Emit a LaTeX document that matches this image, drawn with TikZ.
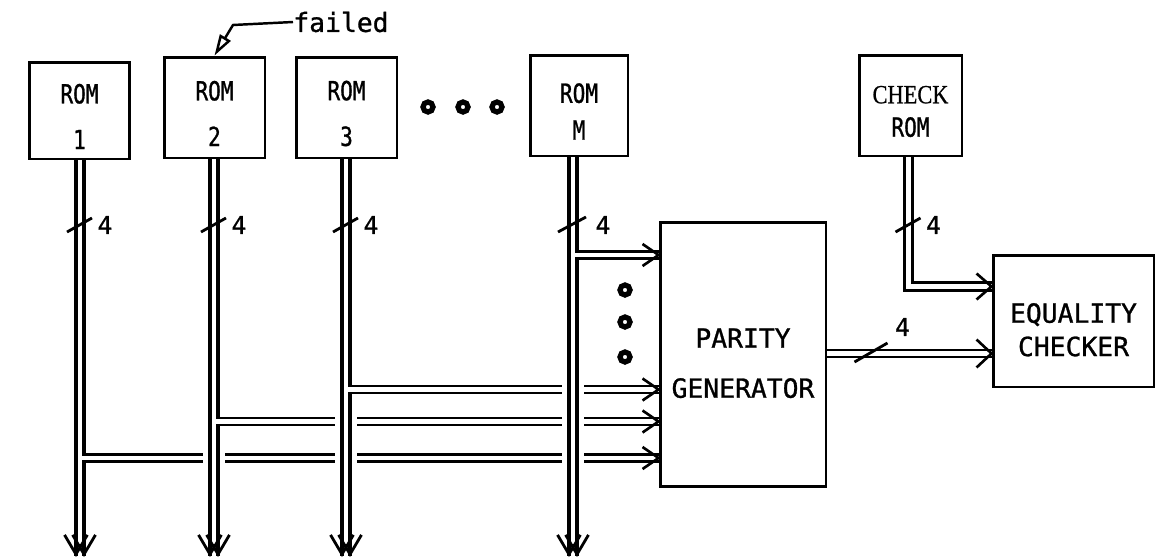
\documentclass[tikz,border=0pt]{standalone}
\usepackage{fontspec}
\setmonofont[FakeBold=1]{DejaVu Sans Mono}
\newfontfamily\romfont[FakeStretch=0.8, FakeBold=1]{DejaVu Sans Mono}
\newfontfamily\checkfont[FakeStretch=0.85, FakeBold=0.6]{Liberation Serif}
\usetikzlibrary{arrows.meta,calc}

\begin{document}
\begin{tikzpicture}[
  x=0.02cm, y=-0.02cm,
  % Node Styles
  romnode/.style={rectangle, draw, line width=1.7pt, minimum width=2.02cm, minimum height=2.02cm},
  romlbl/.style={align=center, inner sep=0pt, yshift=-3.4pt, font=\romfont\fontsize{15}{26}\selectfont},
  blocknode/.style={rectangle, draw, line width=1.7pt},
  blocklbl/.style={align=center, inner sep=0pt, yshift=-5pt, font=\ttfamily\fontsize{15}{19}\selectfont},
  numlbl/.style={font=\ttfamily\fontsize{14}{16}\selectfont, inner sep=0pt},
  % Line Styles
  vbus/.style={line width=1.8pt, double=white, double distance=2.8pt},
  hbus/.style={line width=1.4pt, double=white, double distance=2.4pt},
  busgap/.style={draw=white, line width=13pt},
  barb/.style={line width=1.5pt, line join=round},
  vtip/.style={line width=1.6pt, -{Straight Barb[length=11pt, width=13pt]}},
  slash/.style={line width=1.6pt},
  dot/.style={line width=3pt},
  pointer/.style={line width=1.4pt, -{Triangle[open, length=12pt, width=7pt]}}
]
\useasboundingbox (0,0) rectangle (1156,558);

% ROM blocks
\node[romnode, minimum height=1.94cm, label={[romlbl]center:{ROM\\1}}] (rom1) at (79.5,110.5) {};
\node[romnode, label={[romlbl]center:{ROM\\2}}] (rom2) at (214.5,107.5) {};
\node[romnode, label={[romlbl]center:{ROM\\3}}] (rom3) at (346.5,107.5) {};
\node[romnode, minimum width=1.96cm, label={[romlbl]center:{ROM\\[-5pt]M}}] (romM) at (579,105.5) {};
\node[romnode, minimum width=2.06cm, label={[romlbl]center:{{\checkfont CHECK}\\[-7pt]ROM}}] (chkrom) at (910.5,105.5) {};

% checking blocks
\node[blocknode, minimum width=3.32cm, minimum height=5.3cm, label={[blocklbl, font=\ttfamily\fontsize{15}{28.5}\selectfont]center:{PARITY\\GENERATOR}}] (pg) at (743,354.5) {};
\node[blocknode, minimum width=3.22cm, minimum height=2.64cm, label={[blocklbl]center:{EQUALITY\\CHECKER}}] (eq) at (1073.5,321) {};

% bus ends and tap rows
\coordinate (b1) at (80,556);
\coordinate (b2) at (214,556);
\coordinate (b3) at (346,556);
\coordinate (bM) at (573,556);
\coordinate (t1) at (0,458);
\coordinate (t2) at (0,421.5);
\coordinate (t3) at (0,389.5);
\coordinate (tM) at (0,255);
\coordinate (tc) at (908.5,286.5);
\coordinate (to) at (0,353.5);
\coordinate (sl) at (0,225);

% buses and taps (each bus cuts the taps on its left)
\draw[vbus] (rom1.south -| b1) -- (b1);
\draw[hbus] ($(b1 |- t1)+(1.4pt,0)$) -- (pg.west |- t1);
\draw[busgap] (rom2.south -| b2) -- (b2);
\draw[vbus] (rom2.south -| b2) -- (b2);
\draw[hbus] ($(b2 |- t2)+(1.4pt,0)$) -- (pg.west |- t2);
\draw[busgap] (rom3.south -| b3) -- (b3);
\draw[vbus] (rom3.south -| b3) -- (b3);
\draw[hbus] ($(b3 |- t3)+(1.4pt,0)$) -- (pg.west |- t3);
\draw[busgap] (romM.south -| bM) -- (bM);
\draw[vbus] (romM.south -| bM) -- (bM);
\draw[hbus] ($(bM |- tM)+(1.4pt,0)$) -- (pg.west |- tM);

\draw[vbus] (chkrom.south -| tc) |- (eq.west |- tc);
\draw[hbus] (pg.east |- to) -- (eq.west |- to);

% arrowheads into the blocks
\draw[barb] ($(pg.west |- tM)+(-16,-11)$) -- (pg.west |- tM) -- ($(pg.west |- tM)+(-16,11)$);
\draw[barb] ($(pg.west |- t3)+(-16,-11)$) -- (pg.west |- t3) -- ($(pg.west |- t3)+(-16,11)$);
\draw[barb] ($(pg.west |- t2)+(-16,-11)$) -- (pg.west |- t2) -- ($(pg.west |- t2)+(-16,11)$);
\draw[barb] ($(pg.west |- t1)+(-16,-11)$) -- (pg.west |- t1) -- ($(pg.west |- t1)+(-16,11)$);
\draw[barb] ($(eq.west |- tc)+(-15,-13)$) -- (eq.west |- tc) -- ($(eq.west |- tc)+(-15,13)$);
\draw[barb] ($(eq.west |- to)+(-15,-14)$) -- (eq.west |- to) -- ($(eq.west |- to)+(-15,14)$);

% arrowheads at the bus ends
\draw[vtip] ($(b1)+(-2.3pt,0)+(0,-30)$) -- ($(b1)+(-2.3pt,0)+(0,1)$);
\draw[vtip] ($(b1)+(2.3pt,0)+(0,-30)$) -- ($(b1)+(2.3pt,0)+(0,1)$);
\draw[vtip] ($(b2)+(-2.3pt,0)+(0,-30)$) -- ($(b2)+(-2.3pt,0)+(0,1)$);
\draw[vtip] ($(b2)+(2.3pt,0)+(0,-30)$) -- ($(b2)+(2.3pt,0)+(0,1)$);
\draw[vtip] ($(b3)+(-2.3pt,0)+(0,-30)$) -- ($(b3)+(-2.3pt,0)+(0,1)$);
\draw[vtip] ($(b3)+(2.3pt,0)+(0,-30)$) -- ($(b3)+(2.3pt,0)+(0,1)$);
\draw[vtip] ($(bM)+(-2.3pt,0)+(0,-30)$) -- ($(bM)+(-2.3pt,0)+(0,1)$);
\draw[vtip] ($(bM)+(2.3pt,0)+(0,-30)$) -- ($(bM)+(2.3pt,0)+(0,1)$);

% bus widths
\draw[slash] ($(b1 |- sl)+(-13,7)$) -- ($(b1 |- sl)+(12,-7)$);
\draw[slash] ($(b2 |- sl)+(-13,7)$) -- ($(b2 |- sl)+(12,-7)$);
\draw[slash] ($(b3 |- sl)+(-13,7)$) -- ($(b3 |- sl)+(12,-7)$);
\draw[slash] ($(bM |- sl)+(-15,7)$) -- ($(bM |- sl)+(13,-8)$);
\draw[slash] ($(tc |- sl)+(-13,7)$) -- ($(tc |- sl)+(12,-7)$);
\draw[slash] ($(pg.east |- to)+(27,8.5)$) -- ($(pg.east |- to)+(60,-10.5)$);
\node[numlbl] (n1) at ($(b1 |- sl)+(25,0)$) {4};
\node[numlbl] (n2) at ($(b2 |- sl)+(25,0)$) {4};
\node[numlbl] (n3) at ($(b3 |- sl)+(25,0)$) {4};
\node[numlbl] (nM) at ($(bM |- sl)+(30,0)$) {4};
\node[numlbl] (nc) at ($(tc |- sl)+(25,0)$) {4};
\node[numlbl] (nout) at ($(pg.east |- to)+(75,-26.5)$) {4};

% ellipsis dots
\draw[dot] (428,107) circle (5);
\draw[dot] (463,107) circle (5);
\draw[dot] (497,107) circle (5);
\draw[dot] (625,290) circle (5);
\draw[dot] (625,322) circle (5);
\draw[dot] (625,357) circle (5);

% failed marker
\node[font=\ttfamily\fontsize{15}{18}\selectfont, anchor=west, inner sep=0pt] (failed) at (293,22) {failed};
\coordinate (bend) at (233,25);
\draw[pointer] (failed.west) -- (bend) -- (rom2.north);

\end{tikzpicture}
\end{document}
